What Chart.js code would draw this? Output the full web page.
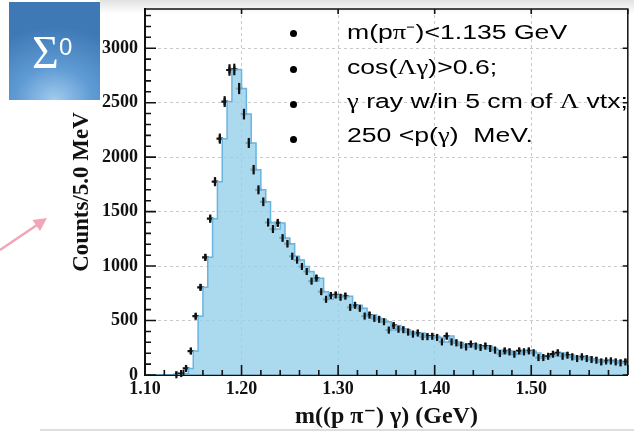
<!DOCTYPE html>
<html>
<head>
<meta charset="utf-8">
<script src="https://cdn.jsdelivr.net/npm/chart.js@4.4.1/dist/chart.umd.min.js"></script>
<style>
  html, body { margin: 0; padding: 0; background: #fff; }
  #wrap { position: relative; width: 634px; height: 435px; overflow: hidden; background: #fff; }
  #topShade { position: absolute; left: 100px; top: 0; width: 534px; height: 14px;
    background: linear-gradient(#e2e2e2, rgba(255,255,255,0)); }
  #bottomRule { position: absolute; left: 40px; top: 429px; width: 594px; height: 2px; background: #dedede; }
  #chartBox { position: absolute; left: 0; top: 0; width: 634px; height: 435px; }
  #sigma { position: absolute; left: 9px; top: 2px; width: 91px; height: 98px;
    background: radial-gradient(ellipse 95% 75% at 50% 100%, #a2cbee 0%, #5e9ad3 45%, #3e79b6 100%); }
  #sigma .big { position: absolute; left: 23px; top: 28px; font: 46px/46px 'Liberation Serif', serif; color: #fff; }
  #sigma .sup { position: absolute; left: 50px; top: 33px; font: 24px/24px 'Liberation Sans', sans-serif; color: #fff; }
  .bullet { position: absolute; left: 290px; width: 7px; height: 7px; border-radius: 50%; background: #000; }
  .cut { position: absolute; left: 347px; font: 20px/20px 'Liberation Sans', sans-serif; color: #000;
    white-space: nowrap; transform: scaleX(1.33); transform-origin: left center; }
  .g { font-family: 'Liberation Serif', serif; }
  #arrow { position: absolute; left: 0; top: 0; }
</style>
</head>
<body>
<div id="wrap">
  <div id="topShade"></div>
  <div id="bottomRule"></div>
  <div id="chartBox"><canvas id="histo"></canvas></div>
  <div id="sigma"><span class="big">&Sigma;</span><span class="sup">0</span></div>
  <div class="bullet" style="top:30px"></div>
  <div class="bullet" style="top:66px"></div>
  <div class="bullet" style="top:101px"></div>
  <div class="bullet" style="top:136px"></div>
  <div class="cut" style="top:22px">m(p<span class="g">&pi;</span>⁻)&lt;1.135 GeV</div>
  <div class="cut" style="top:57px">cos(<span class="g">&Lambda;&gamma;</span>)&gt;0.6;</div>
  <div class="cut" style="top:91px"><span class="g">&gamma;</span> ray w/in 5 cm of <span class="g">&Lambda;</span> vtx;</div>
  <div class="cut" style="top:125px">250 &lt;p(<span class="g">&gamma;</span>)&nbsp; MeV.</div>
  <svg id="arrow" width="634" height="435">
    <line x1="0" y1="250" x2="37" y2="225" stroke="#f0a6b6" stroke-width="2.5"/>
    <polygon points="47,218 32.5,220 40,231" fill="#f0a6b6"/>
  </svg>
</div>

<script>
// histogram: counts per 5 MeV bin, first bin starts at 1.100 GeV
const binStart = 1.10
const binWidth = 0.005
const counts = [
    0, 0, 0, 0, 0, 0, 2, 13, 60, 220,
    540, 805, 1080, 1435, 1775, 2170, 2510, 2800, 2805, 2630,
    2395, 2130, 1885, 1700, 1590, 1400, 1340, 1396, 1258, 1205,
    1090, 1055, 996, 950, 862, 889, 765, 695, 730, 735,
    714, 724, 621, 640, 612, 541, 550, 520, 511, 489,
    412, 455, 420, 416, 394, 375, 385, 352, 352, 355,
    345, 304, 357, 304, 295, 274, 258, 283, 265, 253,
    265, 243, 228, 197, 221, 212, 191, 221, 212, 221,
    203, 160, 160, 172, 191, 203, 172, 182, 166, 151,
    166, 151, 142, 136, 120, 129, 129, 120, 111, 120
]
const xTickValues = [1.10, 1.20, 1.30, 1.40, 1.50]
const yTickValues = [0, 500, 1000, 1500, 2000, 2500, 3000]
const xRange = [1.10, 1.60]
const yRange = [0, 3360]

const serif = "'Liberation Serif', 'DejaVu Serif', serif"

// step outline: lower edge of the first bin, then the upper edge of every bin
const stepData = [{x: binStart, y: counts[0]}]
counts.forEach((c, i) => stepData.push({x: binStart + (i + 1) * binWidth, y: c}))

// data points at bin centres
const pointData = counts
    .map((c, i) => ({x: binStart + (i + 0.5) * binWidth, y: c}))
    .filter(p => p.y > 0)

// vertical error bars sqrt(N) on the data points
const errorBars = {
    id: 'errorBars',
    afterDatasetsDraw(chart) {
        const ctx = chart.ctx
        const y = chart.scales.y
        const meta = chart.getDatasetMeta(1)
        ctx.save()
        ctx.strokeStyle = '#111'
        ctx.lineWidth = 2.2
        meta.data.forEach((el, i) => {
            const v = pointData[i].y
            const s = Math.sqrt(v)
            let top = y.getPixelForValue(v + s)
            let bot = y.getPixelForValue(v - s)
            if (bot - top < 7) { top = el.y - 3.5; bot = el.y + 3.5 }
            ctx.beginPath()
            ctx.moveTo(el.x, top)
            ctx.lineTo(el.x, bot)
            ctx.stroke()
        })
        ctx.restore()
    }
}

// inward ticks and the top/right frame
const frameTicks = {
    id: 'frameTicks',
    afterDatasetsDraw(chart) {
        const {ctx, chartArea: a, scales: {x, y}} = chart
        ctx.save()
        ctx.strokeStyle = '#111'
        ctx.lineWidth = 1.5
        ctx.beginPath()
        ctx.moveTo(a.left, a.top)
        ctx.lineTo(a.right, a.top)
        ctx.lineTo(a.right, a.bottom)
        ctx.stroke()

        ctx.lineWidth = 1.6
        ctx.beginPath()
        for (let k = 0; k * 100 <= yRange[1]; k++) {
            const py = y.getPixelForValue(k * 100)
            const major = k % 5 === 0
            ctx.moveTo(a.left, py)
            ctx.lineTo(a.left + (major ? 11 : 6), py)
            if (major) {
                ctx.moveTo(a.right, py)
                ctx.lineTo(a.right - 5, py)
            }
        }
        for (let k = 0; k <= 25; k++) {
            const px = x.getPixelForValue(xRange[0] + k * 0.02)
            const major = k % 5 === 0
            ctx.moveTo(px, a.bottom)
            ctx.lineTo(px, a.bottom - (major ? 10 : 5))
            if (major) {
                ctx.moveTo(px, a.top)
                ctx.lineTo(px, a.top + 5)
            }
        }
        ctx.stroke()
        ctx.restore()
    }
}

const ctx = document.getElementById('histo')

new Chart(ctx, {
    type: 'line',
    data: {
        datasets: [{
            data: stepData,
            stepped: 'before',
            fill: 'origin',
            backgroundColor: 'rgba(150, 208, 234, 0.8)',
            borderColor: 'rgb(105, 180, 222)',
            borderWidth: 1.5,
            pointRadius: 0
        }, {
            type: 'scatter',
            data: pointData,
            showLine: false,
            pointStyle: 'cross',
            pointRadius: 3.3,
            pointBorderWidth: 2.2,
            pointBorderColor: '#111',
            pointBackgroundColor: '#111'
        }]
    },
    options: {
        responsive: true,
        maintainAspectRatio: false,
        animation: false,
        devicePixelRatio: 1,
        layout: {padding: {top: 9, right: 2, left: 0, bottom: 0}},
        plugins: {
            legend: {display: false},
            tooltip: {enabled: false}
        },
        scales: {
            x: {
                type: 'linear',
                min: xRange[0],
                max: xRange[1],
                afterBuildTicks: s => { s.ticks = xTickValues.map(v => ({value: v})) },
                afterFit: s => { s.height = 60; s.paddingLeft = 0; s.paddingRight = 0 },
                ticks: {
                    padding: 4,
                    color: '#111',
                    font: {family: serif, size: 18, weight: 'bold'},
                    callback: v => v.toFixed(2)
                },
                grid: {color: '#c9c9c9', lineWidth: 1, drawTicks: false},
                border: {display: true, color: '#111', width: 2, dash: [3, 3]},
                title: {
                    display: true,
                    text: 'm((p \u03c0\u207b) \u03b3) (GeV)',
                    color: '#111',
                    font: {family: serif, size: 24, weight: 'bold'},
                    padding: {top: 0, bottom: 4}
                }
            },
            y: {
                min: yRange[0],
                max: yRange[1],
                afterBuildTicks: s => { s.ticks = yTickValues.map(v => ({value: v})) },
                afterFit: s => { s.width = 145; s.paddingTop = 0; s.paddingBottom = 0 },
                ticks: {
                    padding: 7,
                    color: '#111',
                    font: {family: serif, size: 18, weight: 'bold'},
                    callback: v => String(v)
                },
                grid: {color: '#c9c9c9', lineWidth: 1, drawTicks: false},
                border: {display: true, color: '#111', width: 2, dash: [3, 3]},
                title: {
                    display: true,
                    text: 'Counts/5.0 MeV',
                    color: '#111',
                    font: {family: serif, size: 23, weight: 'bold'},
                    padding: {top: 68, bottom: 0}
                }
            }
        }
    },
    plugins: [errorBars, frameTicks]
})
</script>
</body>
</html>
